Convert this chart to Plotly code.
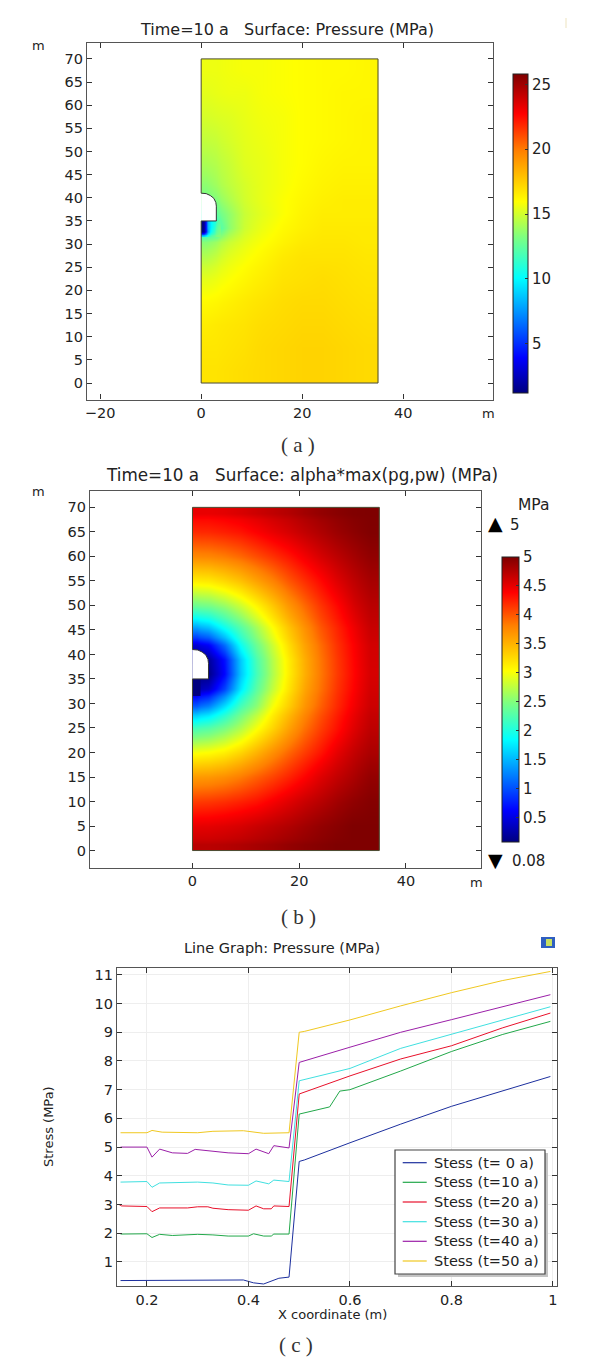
import plotly.graph_objects as go

W, H = 603, 1362
FONT = "DejaVu Sans"

# ---------- panel (a): pressure field ----------
a_x_edges = [0, 2, 4, 7, 10, 14, 18, 22, 26, 30, 35]
a_y_edges = [0, 5, 10, 15, 20, 25, 29, 32, 35, 38, 41, 45, 50, 55, 60, 65, 70]
a_values = [
    [16.8, 16.8, 16.9, 17.0, 17.1, 17.2, 17.3, 17.3, 17.2, 17.1],
    [16.7, 16.7, 16.8, 16.9, 17.1, 17.2, 17.3, 17.3, 17.2, 17.1],
    [16.5, 16.6, 16.7, 16.8, 17.0, 17.1, 17.2, 17.2, 17.1, 17.0],
    [16.1, 16.2, 16.4, 16.6, 16.8, 17.0, 17.1, 17.1, 17.0, 16.9],
    [15.4, 15.6, 15.9, 16.2, 16.5, 16.8, 16.9, 17.0, 16.9, 16.8],
    [14.4, 14.8, 15.4, 15.8, 16.2, 16.6, 16.8, 16.8, 16.8, 16.7],
    [13.4, 13.9, 14.8, 15.4, 15.9, 16.3, 16.6, 16.7, 16.7, 16.6],
    [10.0, 11.0, 13.5, 14.9, 15.6, 16.1, 16.4, 16.6, 16.6, 16.6],
    [11.5, 12.4, 13.6, 14.8, 15.4, 15.9, 16.3, 16.5, 16.5, 16.5],
    [13.0, 13.3, 14.2, 15.0, 15.5, 15.9, 16.2, 16.4, 16.5, 16.5],
    [13.6, 14.0, 14.6, 15.1, 15.5, 15.8, 16.1, 16.3, 16.4, 16.4],
    [14.2, 14.4, 14.8, 15.3, 15.5, 15.8, 16.0, 16.2, 16.3, 16.3],
    [14.7, 14.8, 15.1, 15.4, 15.6, 15.8, 16.0, 16.1, 16.2, 16.3],
    [15.1, 15.2, 15.3, 15.5, 15.7, 15.8, 16.0, 16.1, 16.2, 16.3],
    [15.4, 15.5, 15.6, 15.6, 15.8, 15.9, 16.0, 16.1, 16.2, 16.2],
    [15.6, 15.6, 15.7, 15.8, 15.8, 15.9, 16.0, 16.1, 16.1, 16.2],
]
a_patch_x = [0, 1, 1.5, 2, 2.5, 3, 4]
a_patch_y = [31.5, 32.3, 33.2, 34.2, 35]
a_patch_values = [
    [9.0, 11.0, 12.0, 12.5, 13.0, 13.5],
    [1.5, 8.0, 10.0, 11.0, 12.0, 13.0],
    [1.4, 8.5, 9.5, 10.5, 11.5, 12.8],
    [1.4, 8.5, 9.5, 10.5, 11.0, 12.5],
]
a_ticks_x = [-20, 0, 20, 40]
a_ticks_y = [0, 5, 10, 15, 20, 25, 30, 35, 40, 45, 50, 55, 60, 65, 70]
a_bar_ticks = [5, 10, 15, 20, 25]

# ---------- panel (b): alpha*max(pg,pw) field ----------
b_x_edges = [0, 1.5, 4.5, 7.5, 10.5, 13.5, 16.5, 19.5, 22.5, 25.5, 28.5, 31.5, 35]
b_y_edges = [0, 2.5, 7.5, 12.5, 17.5, 22.5, 27.5, 31.5, 34.5, 37.5, 40.5, 43.5, 47.5,
             52.5, 57.5, 62.5, 67.5, 70]
b_values = [
    [4.72, 4.72, 4.74, 4.77, 4.81, 4.85, 4.9, 4.94, 4.97, 5.0, 5.0, 5.0],
    [4.5, 4.51, 4.54, 4.58, 4.64, 4.7, 4.76, 4.83, 4.9, 4.95, 5.0, 5.0],
    [4.12, 4.14, 4.18, 4.24, 4.31, 4.42, 4.53, 4.64, 4.73, 4.83, 4.91, 4.97],
    [3.65, 3.67, 3.73, 3.83, 3.96, 4.09, 4.23, 4.38, 4.54, 4.67, 4.78, 4.9],
    [3.0, 3.04, 3.13, 3.29, 3.5, 3.72, 3.93, 4.12, 4.3, 4.5, 4.66, 4.79],
    [2.2, 2.28, 2.46, 2.7, 3.0, 3.29, 3.6, 3.88, 4.11, 4.31, 4.52, 4.7],
    [1.05, 1.25, 1.7, 2.2, 2.55, 3.0, 3.33, 3.68, 3.96, 4.2, 4.42, 4.63],
    [0.25, 0.4, 0.95, 1.75, 2.32, 2.78, 3.19, 3.58, 3.88, 4.15, 4.37, 4.6],
    [0.08, 0.12, 0.65, 1.58, 2.2, 2.7, 3.13, 3.52, 3.85, 4.12, 4.35, 4.58],
    [0.09, 0.2, 0.7, 1.6, 2.24, 2.72, 3.14, 3.53, 3.86, 4.13, 4.36, 4.59],
    [0.42, 0.6, 1.15, 1.9, 2.4, 2.82, 3.23, 3.6, 3.9, 4.16, 4.38, 4.6],
    [1.4, 1.55, 1.92, 2.28, 2.65, 3.03, 3.39, 3.71, 4.0, 4.22, 4.44, 4.65],
    [2.4, 2.45, 2.6, 2.82, 3.09, 3.37, 3.67, 3.92, 4.15, 4.35, 4.56, 4.72],
    [3.13, 3.16, 3.27, 3.41, 3.6, 3.79, 4.0, 4.18, 4.35, 4.53, 4.68, 4.81],
    [3.75, 3.77, 3.83, 3.92, 4.04, 4.16, 4.29, 4.44, 4.58, 4.7, 4.81, 4.91],
    [4.2, 4.21, 4.25, 4.3, 4.39, 4.49, 4.58, 4.68, 4.77, 4.86, 4.93, 4.99],
    [4.49, 4.49, 4.52, 4.57, 4.63, 4.69, 4.75, 4.83, 4.9, 4.95, 4.99, 5.0],
]
b_patch_x = [0, 0.8, 1.5]
b_patch_y = [31.5, 33, 35]
b_patch_values = [[0.08, 0.08], [0.08, 0.08]]
b_ticks_x = [0, 20, 40]
b_ticks_y = [0, 5, 10, 15, 20, 25, 30, 35, 40, 45, 50, 55, 60, 65, 70]
b_bar_ticks = [0.5, 1, 1.5, 2, 2.5, 3, 3.5, 4, 4.5, 5]
b_bar_labels = ["0.5", "1", "1.5", "2", "2.5", "3", "3.5", "4", "4.5", "5"]

# ---------- shared domain geometry (m) ----------
hole_x = [0, 3, 3, 2.9, 2.5, 1.8, 1.0, 0]
hole_y = [35, 35, 38.2, 39.0, 39.9, 40.5, 40.9, 41]
edge_x = [0, 0, 35, 35, 0, 0]
edge_y = [41, 70, 70, 0, 0, 35]

# ---------- panel (c): line graph ----------
x_t0 = [0.148, 0.3, 0.39, 0.41, 0.43, 0.46, 0.48, 0.5, 0.51, 0.6, 0.7, 0.8, 0.9, 0.995]
y_t0 = [0.35, 0.35, 0.37, 0.27, 0.23, 0.43, 0.47, 4.5, 4.55, 5.15, 5.8, 6.42, 6.95, 7.46]
x_t10 = [0.148, 0.2, 0.21, 0.225, 0.25, 0.3, 0.33, 0.36, 0.4, 0.41, 0.43, 0.445, 0.45, 0.48,
         0.5, 0.56, 0.58, 0.6, 0.7, 0.8, 0.9, 0.995]
y_t10 = [1.97, 1.98, 1.85, 1.96, 1.92, 1.96, 1.94, 1.9, 1.9, 1.98, 1.9, 1.9, 1.97, 1.97,
         6.15, 6.4, 6.95, 7.0, 7.65, 8.33, 8.92, 9.38]
x_t20 = [0.145, 0.15, 0.2, 0.21, 0.225, 0.28, 0.3, 0.32, 0.33, 0.36, 0.4, 0.415, 0.43, 0.445,
         0.45, 0.48, 0.5, 0.6, 0.7, 0.8, 0.9, 0.995]
y_t20 = [3.0, 2.95, 2.93, 2.75, 2.88, 2.88, 2.92, 2.92, 2.87, 2.82, 2.8, 2.95, 2.85, 2.85,
         2.95, 2.93, 6.85, 7.48, 8.07, 8.53, 9.15, 9.67]
x_t30 = [0.148, 0.2, 0.21, 0.225, 0.3, 0.33, 0.36, 0.4, 0.415, 0.44, 0.45, 0.48,
         0.5, 0.6, 0.7, 0.8, 0.9, 0.995]
y_t30 = [3.78, 3.8, 3.6, 3.75, 3.78, 3.75, 3.68, 3.67, 3.82, 3.72, 3.85, 3.8,
         7.31, 7.74, 8.44, 8.94, 9.44, 9.89]
x_t40 = [0.148, 0.2, 0.21, 0.225, 0.25, 0.28, 0.295, 0.33, 0.36, 0.4, 0.415, 0.44, 0.45, 0.48,
         0.5, 0.6, 0.7, 0.8, 0.9, 0.995]
y_t40 = [5.0, 5.0, 4.65, 4.93, 4.8, 4.78, 4.92, 4.85, 4.8, 4.77, 4.93, 4.77, 5.05, 4.97,
         7.95, 8.48, 9.0, 9.44, 9.88, 10.31]
x_t50 = [0.148, 0.2, 0.21, 0.23, 0.3, 0.33, 0.39, 0.43, 0.48, 0.5, 0.51, 0.6, 0.7, 0.8, 0.9, 0.995]
y_t50 = [5.5, 5.5, 5.58, 5.52, 5.5, 5.55, 5.57, 5.48, 5.5, 9.0, 9.03, 9.43, 9.92, 10.38, 10.8, 11.12]
series_names = ["Stess (t=\u00a00 a)", "Stess (t=10 a)", "Stess (t=20 a)",
                "Stess (t=30 a)", "Stess (t=40 a)", "Stess (t=50 a)"]
series_colors = ["#1c2f9e", "#22a84a", "#e8102a", "#40e0e0", "#9b1fa8", "#f0c820"]
c_ticks_x = [0.2, 0.4, 0.6, 0.8, 1]
c_ticks_y = [1, 2, 3, 4, 5, 6, 7, 8, 9, 10, 11]

JET = [[0, "#00007f"], [0.11, "#0000ff"], [0.36, "#00ffff"], [0.49, "#7fff7f"], [0.6, "#ffff00"],
       [0.76, "#ff7f00"], [0.875, "#ff0000"], [1, "#7f0000"]]


def fx(p):
    return p / W


def fy(p):
    return 1 - p / H


fig = go.Figure()

# panel a
fig.add_trace(go.Heatmap(x=a_x_edges, y=a_y_edges, z=a_values, zmin=1.2, zmax=25.8, colorscale=JET,
                         zsmooth="best", xaxis="x", yaxis="y", hoverinfo="skip",
                         colorbar=dict(x=fx(513), xanchor="left", y=fy(74), yanchor="top", len=319 / H,
                                       thickness=15, xpad=0, ypad=0, tickvals=a_bar_ticks, ticks="inside",
                                       ticklen=3, tickcolor="#333", outlinewidth=1, outlinecolor="#222",
                                       tickfont=dict(family=FONT, size=15, color="#222"))))
fig.add_trace(go.Heatmap(x=a_patch_x, y=a_patch_y, z=a_patch_values, zmin=1.2, zmax=25.8, colorscale=JET,
                         zsmooth="best", showscale=False, xaxis="x", yaxis="y", hoverinfo="skip"))
# panel b
fig.add_trace(go.Heatmap(x=b_x_edges, y=b_y_edges, z=b_values, zmin=0.08, zmax=5, colorscale=JET,
                         zsmooth="best", xaxis="x2", yaxis="y2", hoverinfo="skip",
                         colorbar=dict(x=fx(502), xanchor="left", y=fy(557), yanchor="top", len=285 / H,
                                       thickness=16.5, xpad=0, ypad=0, tickvals=b_bar_ticks,
                                       ticktext=b_bar_labels, ticks="inside", ticklen=3, tickcolor="#333",
                                       outlinewidth=1, outlinecolor="#222",
                                       tickfont=dict(family=FONT, size=15, color="#222"))))
fig.add_trace(go.Heatmap(x=b_patch_x, y=b_patch_y, z=b_patch_values, zmin=0.08, zmax=5, colorscale=JET,
                         showscale=False, xaxis="x2", yaxis="y2", hoverinfo="skip"))
# domain geometry on both maps
for xa, ya in (("x", "y"), ("x2", "y2")):
    fig.add_trace(go.Scatter(x=hole_x, y=hole_y, mode="lines", fill="toself", fillcolor="white",
                             line=dict(color="#333", width=1), xaxis=xa, yaxis=ya,
                             showlegend=False, hoverinfo="skip"))
    fig.add_trace(go.Scatter(x=edge_x, y=edge_y, mode="lines", line=dict(color="#4a4a30", width=1),
                             xaxis=xa, yaxis=ya, showlegend=False, hoverinfo="skip"))

# panel c
series = [(x_t0, y_t0), (x_t10, y_t10), (x_t20, y_t20), (x_t30, y_t30), (x_t40, y_t40), (x_t50, y_t50)]
for (xs, ys), name, color in zip(series, series_names, series_colors):
    fig.add_trace(go.Scatter(x=xs, y=ys, name=name, mode="lines", line=dict(color=color, width=1),
                             xaxis="x3", yaxis="y3", showlegend=False))

tick = dict(family=FONT, size=14.5, color="#222")


def axis(dom, rng, vals, anchor, **kw):
    return dict(domain=dom, range=rng, tickvals=vals, anchor=anchor, ticks="inside", ticklen=5, tickwidth=1,
                tickcolor="#333", showline=True, linecolor="#555", linewidth=1.2, mirror="ticks",
                showgrid=False, zeroline=False, tickfont=tick, **kw)


annotations = []


def label(px, py, text, size=14, color="#222", font=FONT, **kw):
    annotations.append(dict(x=fx(px), y=fy(py), xref="paper", yref="paper", text=text, showarrow=False,
                            xanchor=kw.pop("xanchor", "center"), yanchor="middle",
                            font=dict(family=font, size=size, color=color), **kw))


NB = "\u00a0"
label(287, 30, f"Time=10 a{NB}{NB}{NB}Surface: Pressure (MPa)", 16)
label(38, 45, "m", 13)
label(488, 413, "m", 13)
label(298, 445, f"({NB}a{NB})", 21, color="#333", font="Liberation Serif")
label(302, 475, f"Time=10 a{NB}{NB}{NB}Surface: alpha*max(pg,pw) (MPa)", 16.8)
label(38, 491, "m", 13)
label(476, 882, "m", 13)
label(534, 505, "MPa", 15.5)
label(495, 523, "\u25b2", 19, color="#000")
label(515, 525, "5", 15)
label(495, 860, "\u25bc", 19, color="#000")
label(528, 861, "0.08", 15)
label(298, 917, f"({NB}b{NB})", 21, color="#333", font="Liberation Serif")
label(282, 948, "Line Graph: Pressure (MPa)", 14.5)
label(48, 1127, "Stress (MPa)", 13, textangle=-90)
label(332, 1314, "X coordinate (m)", 13)
label(296, 1345, f"({NB}c{NB})", 21, color="#333", font="Liberation Serif")

shapes = [
    dict(type="rect", xref="paper", yref="paper", x0=fx(398), x1=fx(548), y0=fy(1153), y1=fy(1277),
         fillcolor="#c4c4c4", line=dict(width=0)),
    dict(type="rect", xref="paper", yref="paper", x0=fx(395), x1=fx(545), y0=fy(1150), y1=fy(1274),
         fillcolor="white", line=dict(color="#444", width=1.2)),
    dict(type="rect", xref="paper", yref="paper", x0=fx(541), x1=fx(555), y0=fy(937), y1=fy(948),
         fillcolor="#2f5fc0", line=dict(width=0)),
    dict(type="rect", xref="paper", yref="paper", x0=fx(546), x1=fx(552), y0=fy(939), y1=fy(946),
         fillcolor="#c8e060", line=dict(width=0)),
    dict(type="rect", xref="paper", yref="paper", x0=fx(565), x1=fx(567), y0=fy(18), y1=fy(28),
         fillcolor="#f6f1df", line=dict(width=0)),
]

# legend box, laid out row by row to the reference's spacing
legend_rows = [1162.7, 1182.3, 1202, 1221.7, 1241.3, 1261]
for row, name, color in zip(legend_rows, series_names, series_colors):
    shapes.append(dict(type="line", xref="paper", yref="paper", x0=fx(402.7), x1=fx(426.7), y0=fy(row), y1=fy(row),
                       line=dict(color=color, width=1.2)))
    label(431.7, row, name, 14.5, xanchor="left")

grid = dict(showgrid=True, gridcolor="#eeeeee", gridwidth=1)
fig.update_layout(
    width=W, height=H, autosize=False, paper_bgcolor="white", plot_bgcolor="white", showlegend=False,
    margin=dict(l=0, r=0, t=0, b=0, autoexpand=False),
    xaxis=axis([fx(87), fx(492.7)], [-22.6, 57.7], a_ticks_x, "y"),
    yaxis=axis([fy(399.5), fy(42.7)], [-3.56, 73.5], a_ticks_y, "x"),
    xaxis2=axis([fx(90), fx(480.7)], [-19.2, 54], b_ticks_x, "y2"),
    yaxis2=axis([fy(867.7), fy(490.7)], [-3.5, 73.4], b_ticks_y, "x2"),
    xaxis3={**axis([fx(117), fx(557)], [0.141, 1.008], c_ticks_x, "y3"), **grid},
    yaxis3={**axis([fy(1286), fy(968)], [0.16, 11.24], c_ticks_y, "x3"), **grid},
    annotations=annotations, shapes=shapes,
)

fig.write_html("out.html", config={"displayModeBar": False},
               post_script="document.body.style.margin='0';document.body.style.overflow='hidden';")
